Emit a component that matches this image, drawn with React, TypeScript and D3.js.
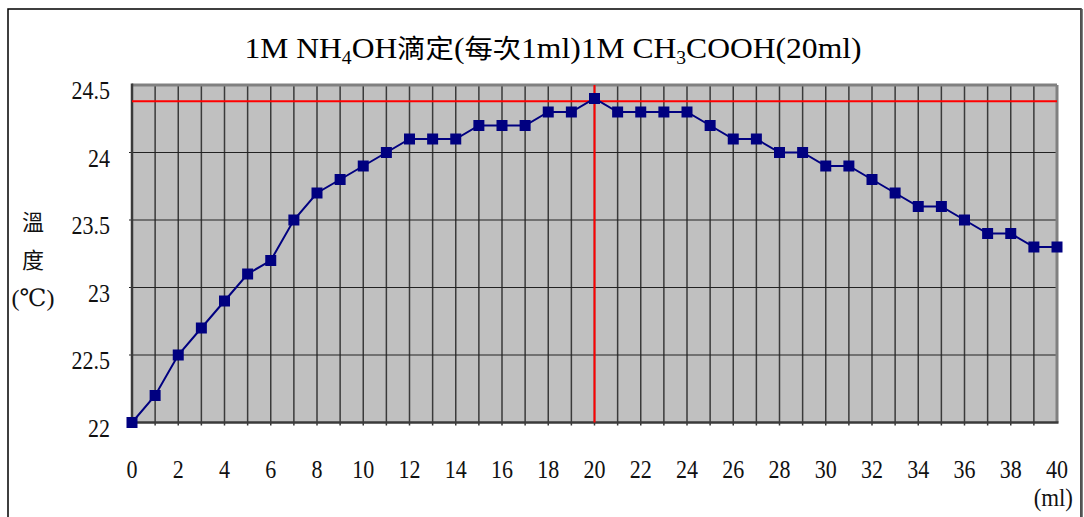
import React from "react";
import * as d3 from "d3";

// Titration volume (ml of 1M NH4OH added) and measured temperature (°C)
const volumes: number[] = d3.range(0, 41);
const temperatures: number[] = [
  22.0, 22.2, 22.5, 22.7, 22.9, 23.1, 23.2, 23.5, 23.7, 23.8,
  23.9, 24.0, 24.1, 24.1, 24.1, 24.2, 24.2, 24.2, 24.3, 24.3,
  24.4, 24.3, 24.3, 24.3, 24.3, 24.2, 24.1, 24.1, 24.0, 24.0,
  23.9, 23.9, 23.8, 23.7, 23.6, 23.6, 23.5, 23.4, 23.4, 23.3,
  23.3,
];
const yTicks: number[] = [22, 22.5, 23, 23.5, 24, 24.5];
const xTickLabels: number[] = d3.range(0, 41, 2);
const peakVolume = 20;
const peakTemperature = 24.38;

const W = 1084;
const H = 517;
const plot = { left: 132, right: 1057, top: 85, bottom: 422.5 };

const serif = "Liberation Serif, DejaVu Serif, serif";
const cjk = "Noto Sans CJK TC, Noto Sans CJK SC, sans-serif";

export default function App() {
  const x = d3.scaleLinear().domain([0, 40]).range([plot.left, plot.right]);
  const y = d3.scaleLinear().domain([22, 24.5]).range([plot.bottom, plot.top]);
  const points = volumes.map((v, i) => [v, temperatures[i]] as [number, number]);
  const line = d3
    .line<[number, number]>()
    .x((d) => x(d[0]))
    .y((d) => y(d[1]));
  const gridX = d3.range(1, 40);
  const gridY = yTicks.slice(1, -1);
  const ms = 11;
  const squeeze = 0.88;

  return (
    <svg
      width={W}
      height={H}
      style={{ position: "absolute", left: 0, top: 0, display: "block", background: "#fff" }}
    >
      {/* outer chart frame */}
      <rect x={8} y={9} width={1073} height={540} fill="#fff" stroke="#000" strokeWidth={1.5} />
      <line x1={1081.5} y1={9} x2={1081.5} y2={H} stroke="#555" strokeWidth={2.5} />

      {/* title */}
      <text
        x={553}
        y={58}
        textAnchor="middle"
        style={{ fontFamily: serif }}
        fontSize={29}
        fill="#000"
        textLength={617}
        lengthAdjust="spacingAndGlyphs"
      >
        <tspan>1M NH</tspan>
        <tspan fontSize={18} dy={6}>4</tspan>
        <tspan dy={-6}>OH</tspan>
        <tspan style={{ fontFamily: cjk }} fontSize={26}>滴定</tspan>
        <tspan>(</tspan>
        <tspan style={{ fontFamily: cjk }} fontSize={26}>每次</tspan>
        <tspan>1ml)1M CH</tspan>
        <tspan fontSize={18} dy={6}>3</tspan>
        <tspan dy={-6}>COOH(20ml)</tspan>
      </text>

      {/* plot area */}
      <rect
        x={plot.left}
        y={plot.top}
        width={plot.right - plot.left}
        height={plot.bottom - plot.top}
        fill="#c0c0c0"
      />
      {gridX.map((v) => (
        <line
          key={"gx" + v}
          x1={x(v)}
          x2={x(v)}
          y1={plot.top}
          y2={plot.bottom + 3}
          stroke="#3a3a3a"
          strokeWidth={1.5}
        />
      ))}
      {gridY.map((v) => (
        <line
          key={"gy" + v}
          x1={plot.left - 3}
          x2={plot.right}
          y1={y(v)}
          y2={y(v)}
          stroke="#222"
          strokeWidth={1.2}
        />
      ))}
      {/* plot borders */}
      <line x1={plot.left} x2={plot.right} y1={plot.top} y2={plot.top} stroke="#808080" strokeWidth={3} />
      <line x1={plot.right} x2={plot.right} y1={plot.top} y2={plot.bottom} stroke="#808080" strokeWidth={3} />
      <line x1={plot.left} x2={plot.left} y1={plot.top - 1.5} y2={plot.bottom} stroke="#3a3a3a" strokeWidth={2.5} />
      <line x1={plot.left} x2={plot.right + 1.5} y1={plot.bottom} y2={plot.bottom} stroke="#3a3a3a" strokeWidth={2.5} />

      {/* reference lines at the peak */}
      <line
        x1={plot.left}
        x2={plot.right}
        y1={y(peakTemperature)}
        y2={y(peakTemperature)}
        stroke="#ff0000"
        strokeWidth={2}
      />
      <line
        x1={x(peakVolume)}
        x2={x(peakVolume)}
        y1={plot.top}
        y2={plot.bottom}
        stroke="#ff0000"
        strokeWidth={2}
      />

      {/* temperature series */}
      <path d={line(points) || ""} fill="none" stroke="#000080" strokeWidth={2} />
      {points.map((d, i) => (
        <rect
          key={"m" + i}
          x={x(d[0]) - ms / 2}
          y={y(d[1]) - ms / 2}
          width={ms}
          height={ms}
          fill="#000080"
        />
      ))}

      {/* y axis tick labels */}
      {yTicks.map((v) => (
        <text
          key={"yt" + v}
          transform={`translate(110,${y(v) + 14}) scale(${squeeze},1)`}
          textAnchor="end"
          style={{ fontFamily: serif }}
          fontSize={25}
          fill="#111"
        >
          {String(v)}
        </text>
      ))}

      {/* x axis tick labels */}
      {xTickLabels.map((v) => (
        <text
          key={"xt" + v}
          transform={`translate(${x(v)},478) scale(${squeeze},1)`}
          textAnchor="middle"
          style={{ fontFamily: serif }}
          fontSize={25}
          fill="#111"
        >
          {String(v)}
        </text>
      ))}
      <text
        transform={`translate(1073,506) scale(${squeeze},1)`}
        textAnchor="end"
        style={{ fontFamily: serif }}
        fontSize={26}
        fill="#111"
      >
        (ml)
      </text>

      {/* y axis title */}
      <text x={33} y={230} textAnchor="middle" style={{ fontFamily: cjk }} fontSize={22} fill="#111">
        溫
      </text>
      <text x={33} y={268} textAnchor="middle" style={{ fontFamily: cjk }} fontSize={22} fill="#111">
        度
      </text>
      <text x={33} y={306} textAnchor="middle" style={{ fontFamily: serif }} fontSize={24} fill="#111">
        (℃)
      </text>
    </svg>
  );
}
